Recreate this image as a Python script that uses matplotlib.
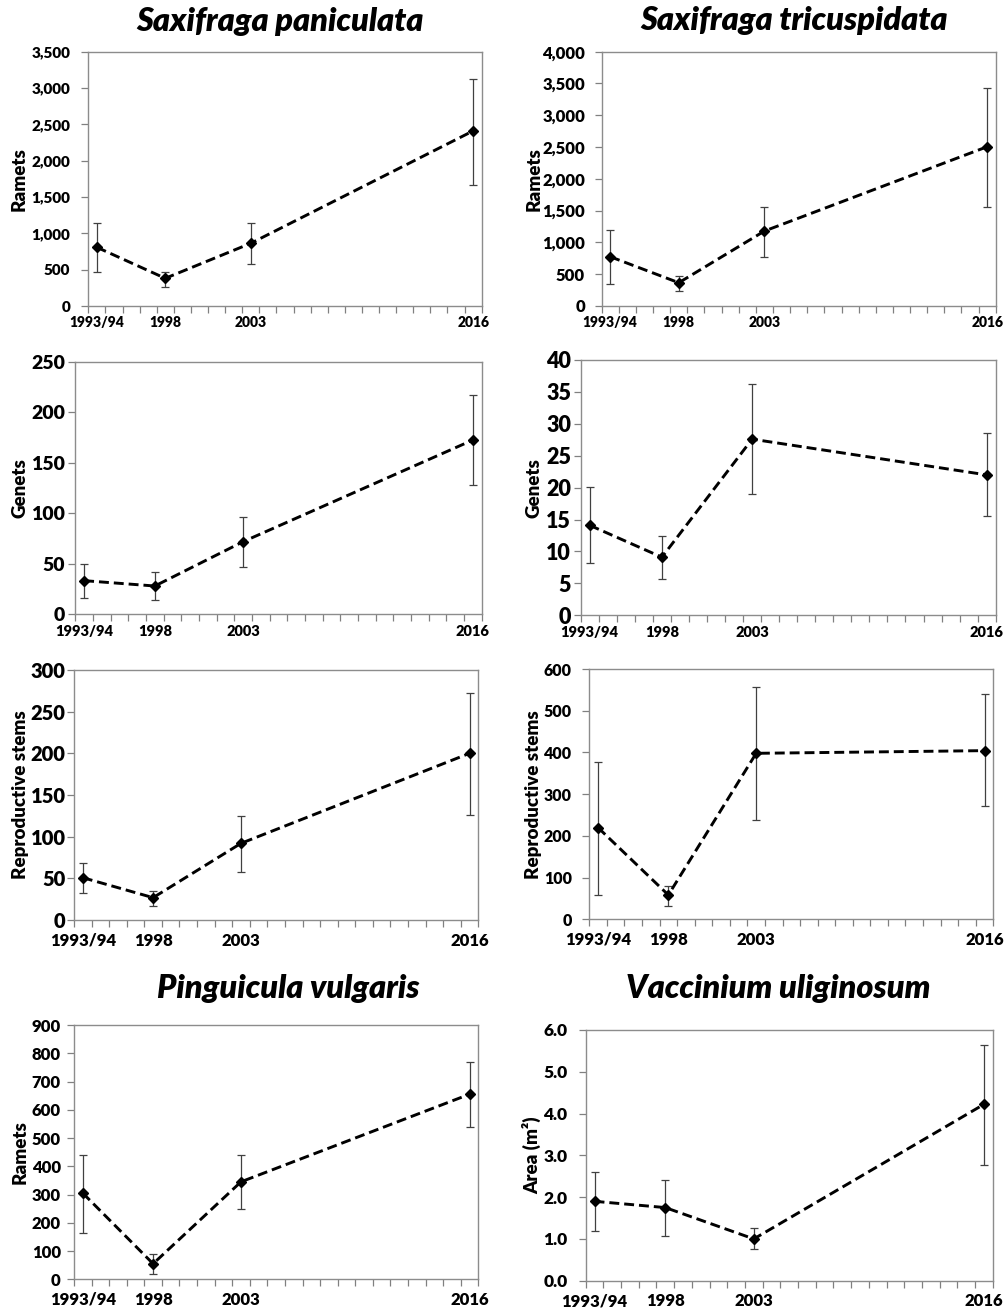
import numpy as np
import matplotlib
matplotlib.use("Agg")
import matplotlib.pyplot as plt
from matplotlib.ticker import FixedLocator, FuncFormatter

plt.rcParams["font.family"] = ["Lato", "DejaVu Sans"]
plt.rcParams["font.weight"] = 800

# survey labels and the year each survey ended
survey_labels = ["1993/94", "1998", "2003", "2016"]
survey_years = [1994, 1998, 2003, 2016]

# Saxifraga paniculata
sp_ramets = [808, 381, 863, 2410]
sp_ramets_lo = [464, 266, 578, 1666]
sp_ramets_hi = [1147, 472, 1147, 3126]
sp_genets = [33.3, 28.0, 71.9, 172.5]
sp_genets_lo = [15.8, 13.9, 46.8, 128.0]
sp_genets_hi = [50.1, 41.9, 96.0, 217.3]
sp_stems = [50.8, 26.8, 92.0, 200.0]
sp_stems_lo = [32.0, 16.8, 57.2, 126.0]
sp_stems_hi = [68.0, 34.4, 125.2, 272.0]

# Saxifraga tricuspidata
st_ramets = [775, 366, 1179, 2505]
st_ramets_lo = [346, 236, 775, 1552]
st_ramets_hi = [1195, 472, 1552, 3433]
st_genets = [14.1, 9.1, 27.6, 22.0]
st_genets_lo = [8.15, 5.7, 19.0, 15.5]
st_genets_hi = [20.05, 12.4, 36.3, 28.6]
st_stems = [219.7, 58.3, 397.9, 404.3]
st_stems_lo = [58.3, 32.0, 238.0, 270.8]
st_stems_hi = [377.9, 80.7, 556.0, 539.3]

# Pinguicula vulgaris
pv_ramets = [305, 55, 345, 655]
pv_ramets_lo = [165, 20, 250, 540]
pv_ramets_hi = [440, 90, 440, 770]

# Vaccinium uliginosum
vu_area = [1.9, 1.75, 1.0, 4.22]
vu_area_lo = [1.2, 1.07, 0.75, 2.78]
vu_area_hi = [2.6, 2.42, 1.25, 5.65]

W, H = 1005, 1314
fig = plt.figure(figsize=(W / 100, H / 100), dpi=100)


def panel(box, vals, lo, hi, ymax, ystep, ylabel, ylab_x, ytick_fs, ypad,
          xtick_fs, xpad, fmt=None):
    l, r, t, b = box
    ax = fig.add_axes([l / W, 1 - b / H, (r - l) / W, (b - t) / H])
    x = np.array(survey_years) - 0.5
    v = np.array(vals)
    err = [v - np.array(lo), np.array(hi) - v]
    ax.errorbar(x, v, yerr=err, fmt="none", ecolor="#404040", elinewidth=0.9,
                capsize=3, capthick=0.9, zorder=2)
    ax.plot(x, v, color="black", lw=2.1, dashes=(3.4, 1.7), marker="D",
            ms=5.5, zorder=3)
    ax.set_xlim(1993, 2016)
    ax.set_ylim(0, ymax)
    ax.xaxis.set_major_locator(FixedLocator(np.arange(1993, 2017)))
    ax.xaxis.set_minor_locator(FixedLocator(x))
    ax.xaxis.set_major_formatter(FuncFormatter(lambda val, pos: ""))
    ax.xaxis.set_minor_formatter(
        FuncFormatter(lambda val, pos: survey_labels[pos]))
    ax.tick_params(axis="x", which="major", length=5, width=0.9,
                   color="#808080", direction="out")
    ax.tick_params(axis="x", which="minor", length=0, pad=xpad,
                   labelsize=xtick_fs)
    ax.set_yticks(np.arange(0, ymax + ystep / 2, ystep))
    if fmt is not None:
        ax.yaxis.set_major_formatter(FuncFormatter(fmt))
    ax.tick_params(axis="y", length=5, width=0.9, color="#808080",
                   labelsize=ytick_fs, pad=ypad)
    for s in ax.spines.values():
        s.set_color("#8c8c8c")
        s.set_linewidth(1.0)
    ax.set_ylabel(ylabel, fontsize=13.5, fontweight=800)
    ax.yaxis.set_label_coords(ylab_x, 0.5)
    return ax


comma = lambda val, pos: f"{val:,.0f}"
one_dec = lambda val, pos: f"{val:.1f}"

panel((88.3, 481.7, 51.7, 306), sp_ramets, sp_ramets_lo, sp_ramets_hi,
      3500, 500, "Ramets", -0.153, 11, 8, 10, 7.5, comma)
panel((601.7, 995.7, 51.7, 306), st_ramets, st_ramets_lo, st_ramets_hi,
      4000, 500, "Ramets", -0.149, 12, 7, 10, 7.5, comma)
panel((75.3, 481.7, 361.7, 614.3), sp_genets, sp_genets_lo, sp_genets_hi,
      250, 50, "Genets", -0.116, 14, 2.5, 10.5, 7.5)
panel((580.7, 995.7, 360, 615.3), st_genets, st_genets_lo, st_genets_hi,
      40, 5, "Genets", -0.092, 15.5, 2, 10.5, 7.5)
panel((74, 478.3, 670, 920), sp_stems, sp_stems_lo, sp_stems_hi,
      300, 50, "Reproductive stems", -0.112, 14.5, 1, 12, 9)
panel((589.3, 993.3, 669, 919.3), st_stems, st_stems_lo, st_stems_hi,
      600, 100, "Reproductive stems", -0.116, 11.5, 7.5, 12, 9)
panel((74, 478.3, 1025, 1279.3), pv_ramets, pv_ramets_lo, pv_ramets_hi,
      900, 100, "Ramets", -0.113, 12, 4.5, 12, 9)
panel((585.7, 992.7, 1030, 1280.7), vu_area, vu_area_lo, vu_area_hi,
      6.0, 1.0, "Area (m²)", -0.110, 12.5, 8, 12, 9, one_dec)

titles = [("Saxifraga paniculata", 280, 31),
          ("Saxifraga tricuspidata", 794, 30),
          ("Pinguicula vulgaris", 288, 998),
          ("Vaccinium uliginosum", 778, 998)]
for txt, tx, ty in titles:
    fig.text(tx / W, 1 - ty / H, txt, ha="center", va="baseline",
             fontsize=23.3, fontweight=800, fontstyle="italic")

fig.savefig("out.png", dpi=100)
